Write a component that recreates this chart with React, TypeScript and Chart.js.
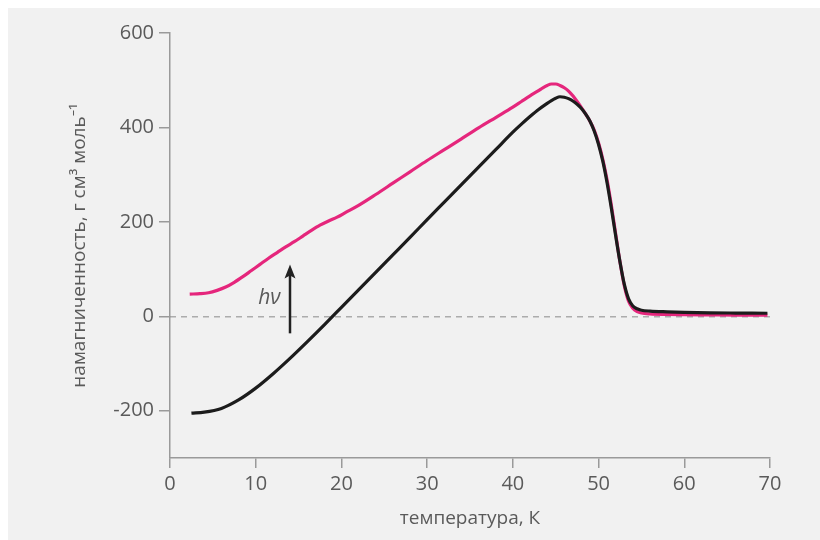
import React, { useEffect, useRef } from "react";
import { Chart, registerables } from "chart.js";

Chart.register(...registerables);

// ---- data ----
const xTicks = [0, 10, 20, 30, 40, 50, 60, 70];
const yTicks = [-200, 0, 200, 400, 600];

const darkX = [2.5, 4, 6, 8, 10, 12, 14, 16, 18, 20, 22, 24, 26, 28, 30, 32, 34, 36, 38, 40, 41, 42, 43, 44, 44.5, 45, 45.5, 46, 46.5, 47, 47.5, 48, 48.5, 49, 49.5, 50, 50.5, 51, 51.5, 52, 52.5, 53, 53.5, 54, 54.5, 55, 56, 58, 60, 63, 66, 69.7];
const darkY = [-205, -203, -195, -177, -152, -122, -89, -54, -18, 19, 56, 93, 130, 167, 205, 242, 279, 316, 353, 390, 407, 423, 438, 451, 457, 462, 465, 464, 461, 456, 449, 440, 428, 413, 392, 364, 328, 282, 228, 170, 115, 68, 37, 22, 16, 13, 11, 9.5, 8.5, 7.5, 7, 6.5];

const pinkX = [2.3, 3.5, 4.5, 5.5, 6.5, 7.5, 8.5, 9.5, 10.5, 11.5, 12.5, 13.5, 14.5, 15.5, 16.5, 17.5, 18.5, 19.5, 20.5, 22, 24, 26, 28, 30, 32, 34, 36, 38, 40, 41, 42, 43, 43.5, 44, 44.5, 45, 45.5, 46, 46.5, 47, 47.5, 48, 48.5, 49, 49.5, 50, 50.5, 51, 51.5, 52, 52.5, 53, 53.5, 54, 54.5, 55, 56, 58, 60, 63, 66, 69.7];
const pinkY = [47, 48, 50, 55, 62, 72, 84, 97, 110, 123, 135, 147, 158, 170, 182, 193, 202, 210, 220, 235, 258, 282, 306, 330, 353, 376, 399, 421, 443, 455, 467, 478, 484, 489, 492, 492, 489, 484, 477, 467, 455, 442, 428, 413, 394, 367, 332, 288, 234, 174, 115, 65, 32, 17, 10, 7, 5, 4, 3.5, 3, 2.5, 2.5];

const arrowX = 14;
const arrowFromY = -36;
const arrowToY = 110;
const hvText = "hν";
const hvX = 12.9;
const hvY = 38;
const zeroLineY = 0;

const xTitle = "температура, К";
const yTitle = "намагниченность, г см³ моль⁻¹";

const FONT = "'Open Sans', 'Noto Sans', sans-serif";
const TEXT = "#5a5a5a";
const AXIS = "#9a9a9a";
const BG = "#f1f1f1";

const toPts = (xs: number[], ys: number[]) => xs.map((x, i) => ({ x, y: ys[i] }));

const decorPlugin = {
  id: "decor",
  beforeDraw(chart: any) {
    const ctx = chart.ctx;
    ctx.save();
    ctx.fillStyle = BG;
    ctx.fillRect(0, 0, chart.width, chart.height);
    ctx.restore();
  },
  beforeDatasetsDraw(chart: any) {
    const ctx = chart.ctx;
    const xs = chart.scales.x;
    const ys = chart.scales.y;
    const y0 = ys.getPixelForValue(zeroLineY);
    ctx.save();
    ctx.strokeStyle = "#8a8a8a";
    ctx.lineWidth = 1;
    ctx.setLineDash([6, 5]);
    ctx.beginPath();
    ctx.moveTo(xs.getPixelForValue(0), y0 + 0.5);
    ctx.lineTo(xs.getPixelForValue(70), y0 + 0.5);
    ctx.stroke();
    ctx.restore();
  },
  afterDatasetsDraw(chart: any) {
    const ctx = chart.ctx;
    const xs = chart.scales.x;
    const ys = chart.scales.y;
    const ax = xs.getPixelForValue(arrowX);
    const yb = ys.getPixelForValue(arrowFromY);
    const yt = ys.getPixelForValue(arrowToY);
    ctx.save();
    ctx.strokeStyle = "#222";
    ctx.fillStyle = "#222";
    ctx.lineWidth = 2.5;
    ctx.beginPath();
    ctx.moveTo(ax, yb);
    ctx.lineTo(ax, yt + 10);
    ctx.stroke();
    ctx.beginPath();
    ctx.moveTo(ax, yt);
    ctx.lineTo(ax + 5.5, yt + 14);
    ctx.lineTo(ax, yt + 11);
    ctx.lineTo(ax - 5.5, yt + 14);
    ctx.closePath();
    ctx.fill();
    ctx.font = `italic 21px ${FONT}`;
    ctx.fillStyle = TEXT;
    ctx.textAlign = "right";
    ctx.textBaseline = "middle";
    ctx.fillText(hvText, xs.getPixelForValue(hvX), ys.getPixelForValue(hvY));
    ctx.restore();
  },
};

export default function App() {
  const ref = useRef<HTMLCanvasElement | null>(null);
  useEffect(() => {
    if (!ref.current) return;
    const chart = new Chart(ref.current, {
      type: "line",
      data: {
        datasets: [
          {
            data: toPts(darkX, darkY),
            borderColor: "#1c1c1c",
            borderWidth: 3.2,
            pointRadius: 0,
            cubicInterpolationMode: "monotone",
            fill: false,
          },
          {
            data: toPts(pinkX, pinkY),
            borderColor: "#e5267c",
            borderWidth: 3.2,
            pointRadius: 0,
            cubicInterpolationMode: "monotone",
            fill: false,
          },
        ],
      },
      options: {
        animation: false,
        responsive: false,
        layout: { padding: { left: 0, right: 50, top: 25, bottom: 0 } },
        plugins: { legend: { display: false }, tooltip: { enabled: false } },
        scales: {
          x: {
            type: "linear",
            min: 0,
            max: 70,
            afterBuildTicks: (s: any) => {
              s.ticks = xTicks.map((v) => ({ value: v }));
            },
            afterFit: (s: any) => {
              s.height = 82;
            },
            ticks: { font: { family: FONT, size: 20 }, color: TEXT, padding: 4, maxRotation: 0 },
            grid: { drawOnChartArea: false, drawTicks: true, tickLength: 10, color: AXIS, lineWidth: 1.5 },
            border: { display: true, color: AXIS, width: 1.5 },
            title: {
              display: true,
              text: xTitle,
              font: { family: FONT, size: 19 },
              color: TEXT,
              padding: { top: 0, bottom: 10 },
            },
          },
          y: {
            type: "linear",
            min: -300,
            max: 600,
            afterBuildTicks: (s: any) => {
              s.ticks = yTicks.map((v) => ({ value: v }));
            },
            afterFit: (s: any) => {
              s.width = 162;
            },
            ticks: { font: { family: FONT, size: 20 }, color: TEXT, padding: 5 },
            grid: { drawOnChartArea: false, drawTicks: true, tickLength: 11, color: AXIS, lineWidth: 1.5 },
            border: { display: true, color: AXIS, width: 1.5 },
            title: {
              display: true,
              text: yTitle,
              font: { family: FONT, size: 19 },
              color: TEXT,
              padding: { top: 60, bottom: 0 },
            },
          },
        },
      },
      plugins: [decorPlugin],
    } as any);
    return () => chart.destroy();
  }, []);
  return (
    <div style={{ position: "fixed", left: 8, top: 8, right: 0, bottom: 0, overflow: "hidden", background: BG }}>
      <canvas ref={ref} width={812} height={532} style={{ display: "block" }} />
    </div>
  );
}
